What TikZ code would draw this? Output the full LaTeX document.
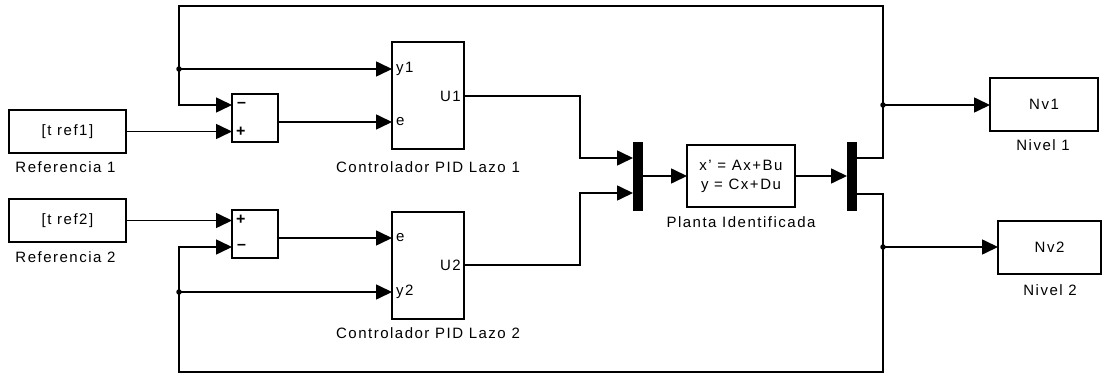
\documentclass[tikz,border=0pt]{standalone}
\usepackage{fontspec}
\setmainfont{Liberation Sans}[LetterSpace=10]
\usetikzlibrary{arrows.meta}
\tikzset{
  blk/.style={draw, line width=1.5pt, inner sep=0pt, outer sep=0pt},
  bar/.style={fill=black, draw=none, inner sep=0pt, outer sep=0pt, minimum width=10pt, minimum height=69pt},
  sig/.style={line width=1.6pt, -{Triangle[length=16pt,width=15pt]}},
  jdot/.style={circle, fill=black, inner sep=0pt, minimum size=5.5pt},
  lbl/.style={inner sep=0pt},
  sgn/.style={inner sep=0pt, anchor=west, font=\fontsize{16}{18}\selectfont\bfseries}
}
\begin{document}
\begin{tikzpicture}[x=1pt,y=-1pt,font=\fontsize{15}{18}\selectfont]
\fill[white] (0,0) rectangle (1102,374);
\useasboundingbox (0,0) rectangle (1102,374);

% blocks
\node[blk, minimum width=117pt, minimum height=43pt] (ref1) at (67.5,131.5) {[t ref1]};
\node[blk, minimum width=117pt, minimum height=43pt] (ref2) at (67.5,220.5) {[t ref2]};
\node[lbl] (lref1) at (65.5,167) {Referencia 1};
\node[lbl] (lref2) at (65.5,257) {Referencia 2};

\node[blk, minimum width=46pt, minimum height=48pt] (sum1) at (255,118) {};
\node[blk, minimum width=46pt, minimum height=48pt] (sum2) at (255,234) {};
\node[sgn] (s1minus) at (237,105) {–};
\node[sgn] (s1plus) at (236,132) {+};
\node[sgn] (s2plus) at (236,220) {+};
\node[sgn] (s2minus) at (237,247) {–};

\node[blk, minimum width=72pt, minimum height=107pt] (c1) at (428,95.5) {};
\node[blk, minimum width=72pt, minimum height=107pt] (c2) at (428,265.5) {};
\node[lbl, anchor=west] (py1) at (396,69) {y1};
\node[lbl, anchor=west] (pe1) at (396,122) {e};
\node[lbl, anchor=east] (pu1) at (461,96) {U1};
\node[lbl, anchor=west] (pe2) at (396,238) {e};
\node[lbl, anchor=west] (py2) at (396,292) {y2};
\node[lbl, anchor=east] (pu2) at (461,265) {U2};
\node[lbl] (lc1) at (428,167) {Controlador PID Lazo 1};
\node[lbl] (lc2) at (428,333) {Controlador PID Lazo 2};

\node[bar] (mux) at (638,176.5) {};
\node[bar] (demux) at (852,176.5) {};

\node[blk, minimum width=108pt, minimum height=62pt, align=center] (plant) at (741,176) {x' = Ax+Bu\\[1pt]y = Cx+Du};
\node[lbl] (lplant) at (741,222) {Planta Identificada};

\node[blk, minimum width=108pt, minimum height=53pt] (nv1) at (1044,104.5) {Nv1};
\node[blk, minimum width=103pt, minimum height=53pt] (nv2) at (1049.5,247.5) {Nv2};
\node[lbl] (lnv1) at (1043,145) {Nivel 1};
\node[lbl] (lnv2) at (1050,290) {Nivel 2};

% coordinates
\coordinate (s1m) at (232,105);
\coordinate (s1o) at (278,122);
\coordinate (s2m) at (232,247);
\coordinate (s2o) at (278,238);
\coordinate (c1o) at (464,96);
\coordinate (c2o) at (464,265);
\coordinate (mx1) at (633,158);
\coordinate (mx2) at (633,193);
\coordinate (dm1) at (857,158);
\coordinate (dm2) at (857,194);
\coordinate (tr) at (883,6);
\coordinate (tl) at (179,6);
\coordinate (br) at (883,372);
\coordinate (bl) at (179,372);
\node[jdot] (ja) at (179,69) {};
\node[jdot] (jc) at (179,292) {};
\node[jdot] (jb) at (883,105) {};
\node[jdot] (jd) at (883,247) {};

% connectors
\draw[sig] (ref1.east) -- (ref1.east -| sum1.west);
\draw[sig] (ref2.east) -- (ref2.east -| sum2.west);
\draw[sig] (s1o) -- (s1o -| c1.west);
\draw[sig] (s2o) -- (s2o -| c2.west);
\draw[sig] (c1o) -- ++(116,0) |- (mx1);
\draw[sig] (c2o) -- ++(116,0) |- (mx2);
\draw[sig] (mux.east |- plant.west) -- (plant.west);
\draw[sig] (plant.east) -- (plant.east -| demux.west);

\draw[sig] (dm1) -| (tr) -- (tl) |- (s1m);
\draw[sig] (dm2) -| (br) -- (bl) |- (s2m);
\draw[sig] (ja.center) -- (ja.center -| c1.west);
\draw[sig] (jc.center) -- (jc.center -| c2.west);
\draw[sig] (jb.center) -- (jb.center -| nv1.west);
\draw[sig] (jd.center) -- (jd.center -| nv2.west);
\end{tikzpicture}
\end{document}
